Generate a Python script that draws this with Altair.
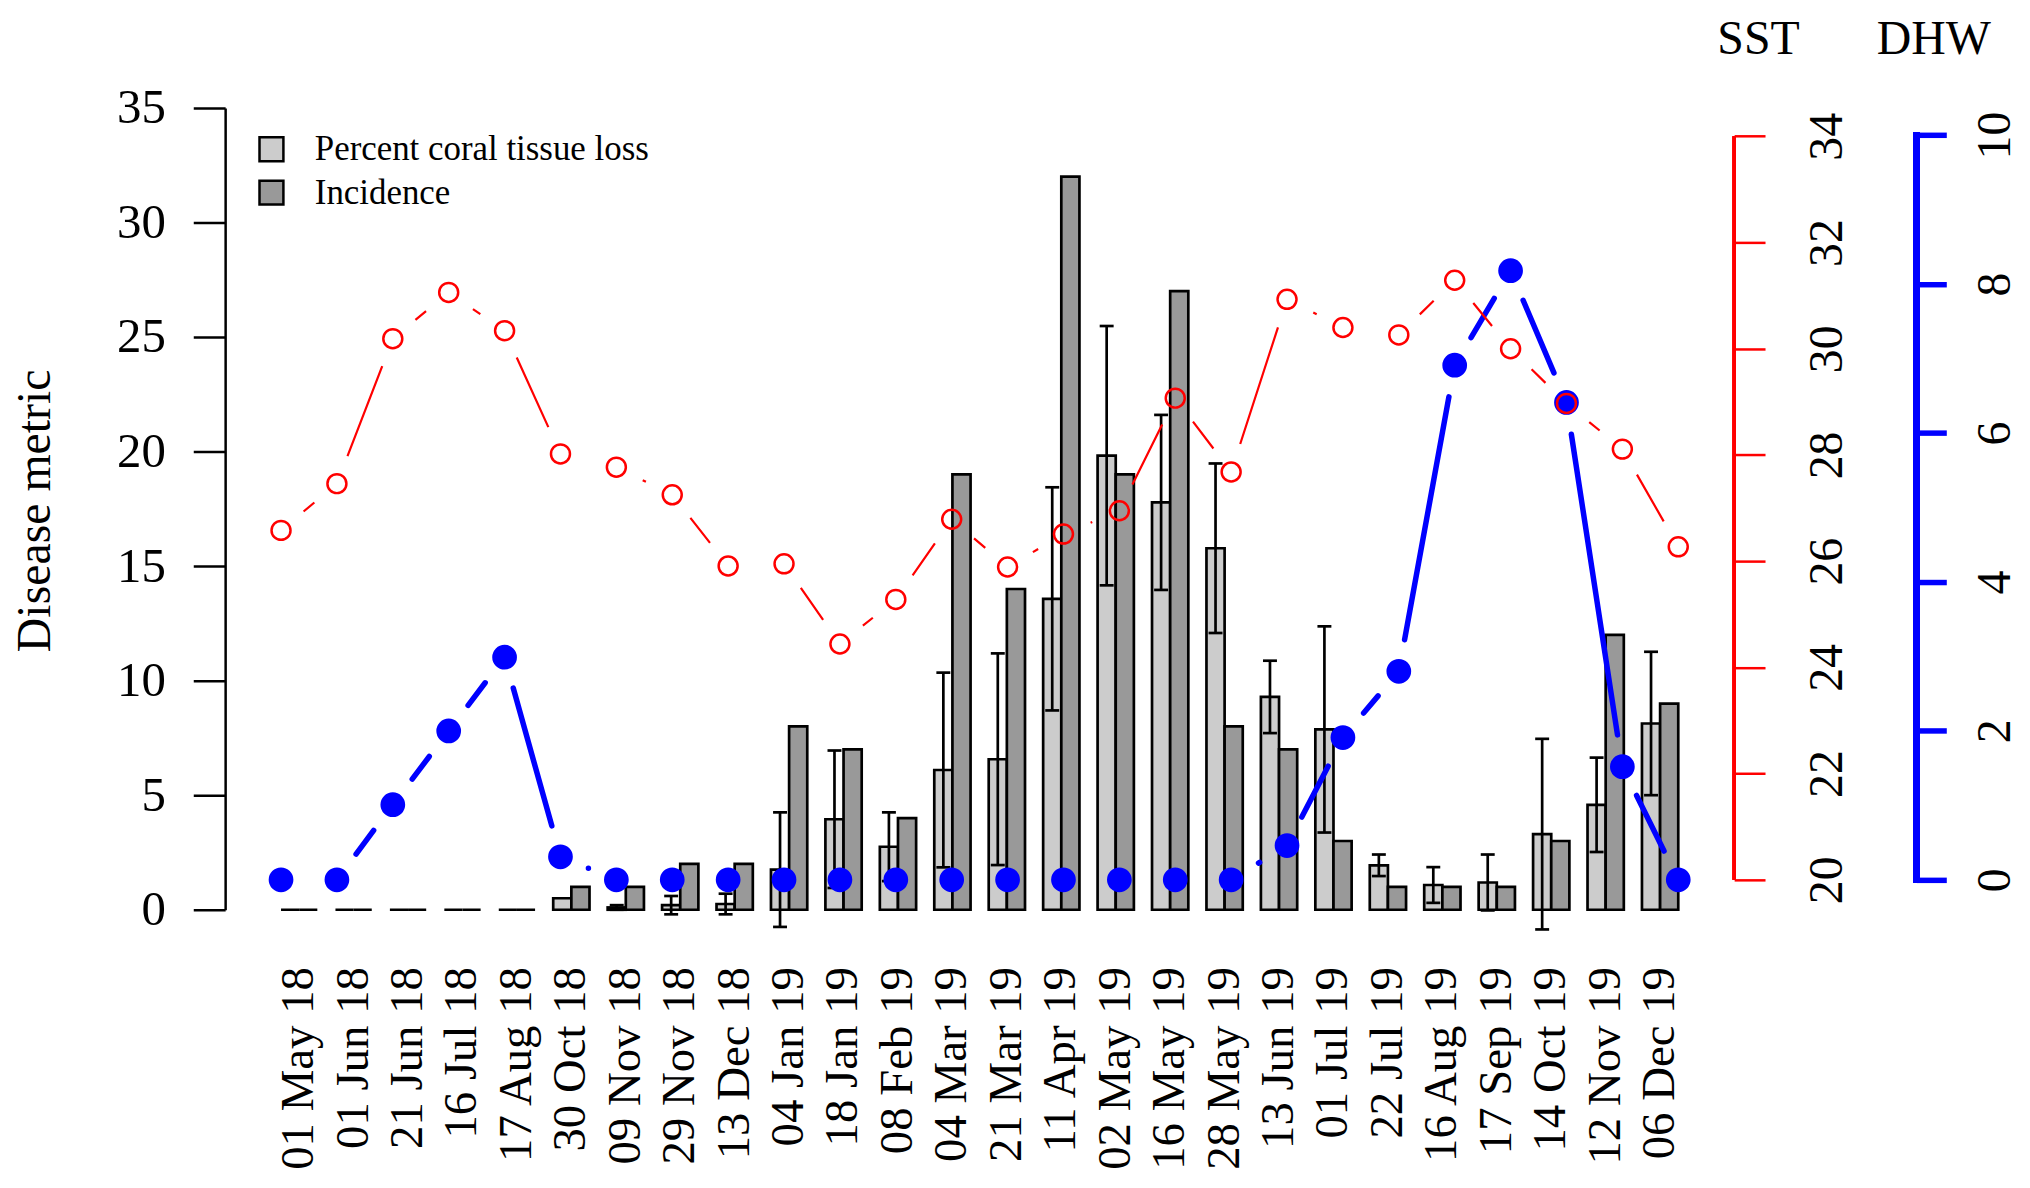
import math
import altair as alt
import pandas as pd

# ---------------- data ----------------
dates = ["01 May 18", "01 Jun 18", "21 Jun 18", "16 Jul 18", "17 Aug 18", "30 Oct 18",
         "09 Nov 18", "29 Nov 18", "13 Dec 18", "04 Jan 19", "18 Jan 19", "08 Feb 19",
         "04 Mar 19", "21 Mar 19", "11 Apr 19", "02 May 19", "16 May 19", "28 May 19",
         "13 Jun 19", "01 Jul 19", "22 Jul 19", "16 Aug 19", "17 Sep 19", "14 Oct 19",
         "12 Nov 19", "06 Dec 19"]
tissue_loss = [0, 0, 0, 0, 0, 0.5, 0.1, 0.2, 0.25, 1.75, 3.95, 2.75, 6.1, 6.57, 13.57,
               19.82, 17.78, 15.78, 9.29, 7.87, 1.94, 1.08, 1.19, 3.3, 4.58, 8.13]
tissue_sd = [0, 0, 0, 0, 0, 0, 0.1, 0.4, 0.45, 2.5, 3.0, 1.5, 4.25, 4.62, 4.87,
             5.66, 3.82, 3.7, 1.58, 4.5, 0.47, 0.78, 1.22, 4.16, 2.06, 3.13]
incidence = [0, 0, 0, 0, 0, 1, 1, 2, 2, 8, 7, 4, 19, 14, 32, 19, 27, 8, 7, 3, 1, 1, 1, 3, 12, 9]
sst = [26.58, 27.46, 30.19, 31.06, 30.34, 28.02, 27.77, 27.25, 25.91, 25.95, 24.44, 25.28,
       26.79, 25.89, 26.51, 26.95, 29.07, 27.68, 30.93, 30.40, 30.26, 31.29, 30.0, 28.97,
       28.11, 26.27]
dhw = [0, 0, 1.01, 2.0, 2.99, 0.31, 0, 0, 0, 0, 0, 0, 0, 0, 0, 0, 0, 0,
       0.46, 1.91, 2.80, 6.91, 8.18, 6.41, 1.52, 0]
series_names = ["Percent coral tissue loss", "Incidence"]
metric_ticks = [0, 5, 10, 15, 20, 25, 30, 35]
sst_ticks = [20, 22, 24, 26, 28, 30, 32, 34]
dhw_ticks = [0, 2, 4, 6, 8, 10]

# ---------------- layout / style ----------------
W, H = 1515, 805
FONT = "Liberation Serif"
METRIC_DOMAIN = [0, 35]
SST_DOMAIN = [19.437, 34.5345]
DHW_DOMAIN = [-0.4012, 10.3651]
PT_DOMAIN = [0, 27]
N = len(dates)
LIGHT, DARK = "#cccccc", "#999999"
RED, BLUE = "#ff0000", "#0000ff"
GAP = 29.5          # gap left around each point on the connecting lines (type="b")
BLUE_W, RED_W = 5.5, 2.2
DHW_OFFSET = 183

# barplot coordinates (R style: bar width 1, groups of 2 bars + 1 space)
BAR_UNITS = 3 * N - 1            # from left edge of first group to right edge of last
BAR_DOMAIN = [1 - BAR_UNITS / (N - 1), 1 + (PT_DOMAIN[1] - 1) * BAR_UNITS / (N - 1)]

bars_df = pd.DataFrame({
    "date": dates * 2,
    "series": [series_names[0]] * N + [series_names[1]] * N,
    "value": tissue_loss + incidence,
})
err_df = pd.DataFrame({
    "pos": [3 * i + 1.5 for i in range(N)],
    "lo": [m - s for m, s in zip(tissue_loss, tissue_sd)],
    "hi": [m + s for m, s in zip(tissue_loss, tissue_sd)],
    "sd": tissue_sd,
})
err_df = err_df[err_df["sd"] > 0]
pts_df = pd.DataFrame({"idx": list(range(1, N + 1)), "date": dates,
                       "sst": sst, "dhw": dhw})


def segments(vals, domain, capw, name):
    k = H / (domain[1] - domain[0])
    dxp = W / (PT_DOMAIN[1] - PT_DOMAIN[0])
    rows, ids, dashes = [], [], []
    for i in range(len(vals) - 1):
        L = math.hypot(dxp, (vals[i + 1] - vals[i]) * k)
        start = GAP + capw / 2
        vis = L - 2 * start
        sid = f"{name}{i:02d}"
        if vis > 0:
            d = [0, start, vis, 5000]
        elif L - 2 * GAP > 0 and capw > 0:
            d = [0, L / 2, 0, 5000]
        else:
            d = [0, 5000]
        ids.append(sid)
        dashes.append(d)
        rows.append({"seg": sid, "idx": i + 1, "v": vals[i]})
        rows.append({"seg": sid, "idx": i + 2, "v": vals[i + 1]})
    return pd.DataFrame(rows), ids, dashes


dhw_seg, dhw_ids, dhw_dash = segments(dhw, DHW_DOMAIN, BLUE_W, "d")
sst_seg, sst_ids, sst_dash = segments(sst, SST_DOMAIN, 0, "s")

# ---------------- axes ----------------
x_axis = alt.Axis(labelAngle=-90, labelAlign="right", labelBaseline="middle",
                  ticks=False, tickSize=0, domain=False, labelPadding=57,
                  labelFontSize=47, labelFont=FONT, labelColor="black",
                  labelOverlap=False, labelLimit=1000, title=None)
y_axis = alt.Axis(values=metric_ticks, tickSize=32, tickWidth=2.5, tickColor="black",
                  domainColor="black", domainWidth=2.5, labelPadding=28,
                  labelFontSize=49, labelFont=FONT, labelColor="black", grid=False,
                  title="Disease metric", titleFont=FONT, titleFontSize=48,
                  titleFontWeight="normal", titleColor="black", titleAngle=-90,
                  titleX=-176, titleY=404, titleAlign="center", titleBaseline="alphabetic")
sst_axis = alt.Axis(orient="right", values=sst_ticks, domain=False, tickColor=RED,
                    tickWidth=2.5, tickSize=31, labelAngle=-90, labelAlign="center",
                    labelBaseline="alphabetic", labelPadding=77, labelFontSize=48,
                    labelFont=FONT, labelColor="black", grid=False,
                    title="SST", titleFont=FONT, titleFontSize=48, titleFontWeight="normal",
                    titleColor="black", titleAngle=0, titleX=24, titleY=-55,
                    titleAlign="center", titleBaseline="alphabetic")
dhw_axis = alt.Axis(orient="right", offset=DHW_OFFSET, values=dhw_ticks, domain=False,
                    tickColor=BLUE, tickWidth=5.5, tickSize=30, labelAngle=-90,
                    labelAlign="center", labelBaseline="alphabetic", labelPadding=63,
                    labelFontSize=48, labelFont=FONT, labelColor="black", grid=False,
                    title="DHW", titleFont=FONT, titleFontSize=48, titleFontWeight="normal",
                    titleColor="black", titleAngle=0, titleX=17, titleY=-55,
                    titleAlign="center", titleBaseline="alphabetic")

# bar groups span from the first to the last point position (R barplot + overlay plot)
unit = W / (PT_DOMAIN[1] - PT_DOMAIN[0])
band = alt.Scale(domain=dates, paddingInner=1 / 3, paddingOuter=0,
                 range=[unit * 1, unit * N])
metric_scale = alt.Scale(domain=METRIC_DOMAIN, nice=False, zero=False)
sst_scale = alt.Scale(domain=SST_DOMAIN, nice=False, zero=False)
dhw_scale = alt.Scale(domain=DHW_DOMAIN, nice=False, zero=False)
pt_x = alt.X("idx:Q", scale=alt.Scale(domain=PT_DOMAIN, nice=False, zero=False), axis=None)
bar_x = alt.X("pos:Q", scale=alt.Scale(domain=BAR_DOMAIN, nice=False, zero=False), axis=None)

# ---------------- bars ----------------
bars = alt.Chart(bars_df).mark_bar(stroke="black", strokeWidth=2.7).encode(
    x=alt.X("date:N", sort=dates, scale=band, axis=x_axis),
    xOffset=alt.XOffset("series:N", scale=alt.Scale(domain=series_names)),
    y=alt.Y("value:Q", scale=metric_scale, axis=y_axis, title="Disease metric"),
    fill=alt.Fill("series:N", scale=alt.Scale(domain=series_names, range=[LIGHT, DARK]),
                  legend=alt.Legend(title=None, orient="none", legendX=29, legendY=24,
                                    symbolType="square", symbolSize=576,
                                    symbolStrokeColor="black", symbolStrokeWidth=2.5,
                                    labelFont=FONT, labelFontSize=35, labelColor="black",
                                    labelOffset=26, rowPadding=7.5, padding=0,
                                    labelLimit=1000)),
)

# ---------------- error bars (on the light bars) ----------------
err_y = alt.Y("lo:Q", scale=metric_scale, axis=None)
err_rule = alt.Chart(err_df).mark_rule(color="black", strokeWidth=2.7).encode(
    x=bar_x, y=err_y, y2="hi:Q")
cap_hi = alt.Chart(err_df).mark_tick(color="black", orient="horizontal", size=14,
                                     thickness=2.7, opacity=1).encode(
    x=bar_x, y=alt.Y("hi:Q", scale=metric_scale, axis=None))
cap_lo = alt.Chart(err_df).mark_tick(color="black", orient="horizontal", size=14,
                                     thickness=2.7, opacity=1).encode(
    x=bar_x, y=err_y)
err_layer = alt.layer(err_rule, cap_hi, cap_lo)

# ---------------- DHW (blue) ----------------
dhw_line = alt.Chart(dhw_seg).mark_line(color=BLUE, strokeWidth=BLUE_W, strokeCap="round").encode(
    x=pt_x,
    y=alt.Y("v:Q", scale=dhw_scale, axis=dhw_axis, title="DHW"),
    strokeDash=alt.StrokeDash("seg:N", scale=alt.Scale(domain=dhw_ids, range=dhw_dash), legend=None),
)
dhw_pts = alt.Chart(pts_df).mark_point(shape="circle", filled=True, size=616, color=BLUE,
                                       opacity=1, strokeWidth=0).encode(
    x=pt_x, y=alt.Y("dhw:Q", scale=dhw_scale, axis=dhw_axis, title="DHW"))
dhw_rule = alt.Chart(pts_df).mark_rule(color=BLUE, strokeWidth=BLUE_W, strokeCap="square").encode(
    x=alt.value(W + DHW_OFFSET),
    y=alt.Y(datum=dhw_ticks[0], type="quantitative", scale=dhw_scale, axis=dhw_axis, title="DHW"),
    y2=alt.Y2(datum=dhw_ticks[-1]),
)
dhw_layer = alt.layer(dhw_line, dhw_pts, dhw_rule)

# ---------------- SST (red) ----------------
sst_line = alt.Chart(sst_seg).mark_line(color=RED, strokeWidth=RED_W, strokeCap="butt").encode(
    x=pt_x,
    y=alt.Y("v:Q", scale=sst_scale, axis=sst_axis, title="SST"),
    strokeDash=alt.StrokeDash("seg:N", scale=alt.Scale(domain=sst_ids, range=sst_dash), legend=None),
)
sst_pts = alt.Chart(pts_df).mark_point(shape="circle", filled=False, size=363, color=RED,
                                       opacity=1, strokeWidth=2.5).encode(
    x=pt_x, y=alt.Y("sst:Q", scale=sst_scale, axis=sst_axis, title="SST"))
sst_rule = alt.Chart(pts_df).mark_rule(color=RED, strokeWidth=2.5).encode(
    x=alt.value(W),
    y=alt.Y(datum=sst_ticks[0], type="quantitative", scale=sst_scale, axis=sst_axis, title="SST"),
    y2=alt.Y2(datum=sst_ticks[-1]),
)
sst_layer = alt.layer(sst_line, sst_pts, sst_rule)

chart = alt.layer(bars, err_layer, dhw_layer, sst_layer).resolve_scale(
    x="independent", y="independent", strokeDash="independent"
).properties(
    width=W, height=H,
    autosize=alt.AutoSizeParams(type="none"),
    padding={"left": 218, "top": 98, "right": 289, "bottom": 263},
).configure(font=FONT).configure_view(stroke=None, strokeWidth=0)

chart.save("out.html", embed_options={"renderer": "svg", "actions": False})
